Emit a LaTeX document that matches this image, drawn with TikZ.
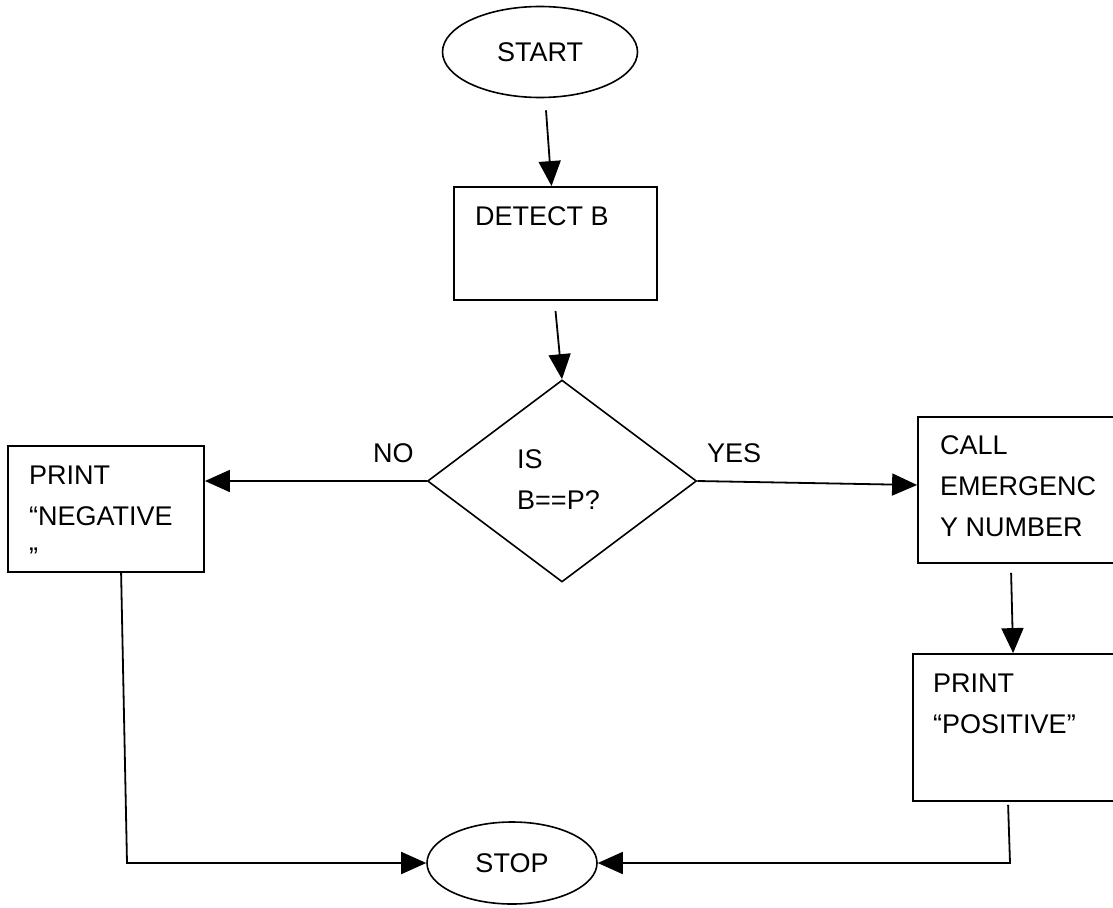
\documentclass[tikz,border=0pt]{standalone}
\usepackage{fontspec}
\setmainfont{Liberation Sans}
\usetikzlibrary{shapes.geometric,arrows.meta,calc}
\begin{document}
\begin{tikzpicture}[x=1pt,y=-1pt,
  every node/.style={font=\fontsize{27}{41}\selectfont},
  arr/.style={line width=1.8pt,-{Triangle[length=25pt,width=22pt]}},
  term/.style={draw,ellipse,line width=1.6pt,inner sep=0pt},
  procbox/.style={draw,rectangle,line width=1.8pt,inner sep=0pt},
  decision/.style={draw,diamond,line width=1.6pt,inner sep=0pt,minimum width=269pt,minimum height=202pt},
  txt/.style={anchor=north west,inner sep=0pt,align=left}]
\clip (0,0) rectangle (1113,907);
\fill[white] (0,0) rectangle (1113,907);
% shapes
\node[term,minimum width=195pt,minimum height=91pt] (start) at (540,52) {START};
\node[procbox,minimum width=203pt,minimum height=113pt] (detect) at (555.5,243.5) {};
\node[decision] (dia) at (562,481) {};
\node[procbox,minimum width=196pt,minimum height=126pt] (pn) at (106,509) {};
\node[procbox,minimum width=222pt,minimum height=146pt] (call) at (1029,490) {};
\node[procbox,minimum width=212pt,minimum height=147pt] (pp) at (1019,727.5) {};
\node[term,minimum width=170pt,minimum height=82pt] (stop) at (512,863) {STOP};
% texts
\node[txt] (tdetect) at (475,206.7) {DETECT B};
\node[txt] (tdia) at (517,449.7) {IS\\B==P?};
\node[txt] (tpn) at (29,465.7) {PRINT\\“NEGATIVE\\”};
\node[txt] (tcall) at (940,435.7) {CALL\\EMERGENC\\Y NUMBER};
\node[txt] (tpp) at (933,673.7) {PRINT\\“POSITIVE”};
\node[anchor=base west,inner sep=0pt] (no) at (373,462) {NO};
\node[anchor=base west,inner sep=0pt] (yes) at (707,462) {YES};
% connectors
\coordinate (c1) at (127,863);
\coordinate (c2) at (1010,863);
\draw[arr] ($(start.south)+(6,12)$) -- ($(detect.north)+(-4,0)$);
\draw[arr] ($(detect.south)+(0,10)$) -- (dia.north);
\draw[arr] (dia.west) -- (dia.west -| pn.east);
\draw[arr] (dia.east) -- ($(call.west)+(0,-5)$);
\draw[arr] ($(call.south west)+(94,9)$) -- ($(pp.north west)+(101,0)$);
\draw[arr] ($(pn.south west)+(114,0)$) -- (c1) -- (stop.west);
\draw[arr] ($(pp.south west)+(96,3)$) -- (c2) -- (stop.east);
\end{tikzpicture}
\end{document}
